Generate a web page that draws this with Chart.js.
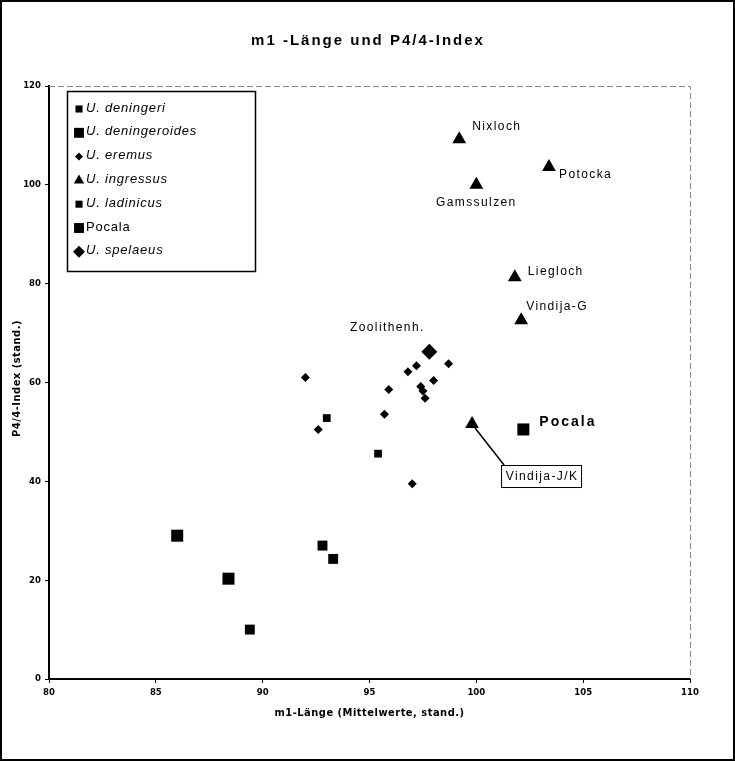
<!DOCTYPE html>
<html>
<head>
<meta charset="utf-8">
<title>m1 -Länge und P4/4-Index</title>
<script src="https://cdn.jsdelivr.net/npm/chart.js"></script>
<style>
  html, body { margin: 0; padding: 0; background: #fff; }
  #box { width: 735px; height: 761px; }
</style>
</head>
<body>
<div id="box"><canvas id="chart"></canvas></div>
<script>
// series (x = m1-Länge, y = P4/4-Index)
const deningeriX = [89.4, 92.8, 93.3];
const deningeriY = [10.0, 27.0, 24.3];
const deningeroidesX = [86.0, 88.4];
const deningeroidesY = [29.0, 20.3];
const eremusX = [92.0, 92.6, 95.7, 95.9, 96.8, 97.2, 97.4, 97.5, 97.6, 98.0, 98.7, 97.0];
const eremusY = [61.0, 50.5, 53.6, 58.6, 62.2, 63.4, 59.2, 58.3, 56.8, 60.4, 63.8, 39.5];
const ingressusX = [99.2, 103.4, 100.0, 101.8, 102.1, 99.8];
const ingressusY = [109.2, 103.6, 100.0, 81.3, 72.6, 51.6];
const ingressusNames = ['Nixloch', 'Potocka', 'Gamssulzen', 'Liegloch', 'Vindija-G', 'Vindija-J/K'];
const ladinicusX = [93.0, 95.4];
const ladinicusY = [52.8, 45.6];
const pocalaX = [102.2];
const pocalaY = [50.5];
const spelaeusX = [97.8];
const spelaeusY = [66.2];

const seriesNames = ['U. deningeri', 'U. deningeroides', 'U. eremus', 'U. ingressus', 'U. ladinicus', 'Pocala', 'U. spelaeus'];
const xTicks = [80, 85, 90, 95, 100, 105, 110];
const yTicks = [0, 20, 40, 60, 80, 100, 120];

// label placement (pixel offsets from the point), kept apart from the data
const ingressusLabelPos = [
  { dx: 13, dy: -13, align: 'left' },
  { dx: 10, dy: 8, align: 'left' },
  { dx: 0, dy: 18, align: 'center' },
  { dx: 13, dy: -6, align: 'left' },
  { dx: 5, dy: -14, align: 'left' },
  null
];

function pts(xs, ys) {
  return xs.map((x, i) => ({ x: x, y: ys[i] }));
}

const styles = [
  { pointStyle: 'rect', r: 7, lr: 5 },
  { pointStyle: 'rect', r: 8.5, lr: 7 },
  { pointStyle: 'rectRot', r: 4.5, lr: 4 },
  { pointStyle: 'triangle', r: 8, lr: 6 },
  { pointStyle: 'rect', r: 5.5, lr: 5 },
  { pointStyle: 'rect', r: 8.5, lr: 7 },
  { pointStyle: 'rectRot', r: 8, lr: 6 }
];

const seriesData = [
  pts(deningeriX, deningeriY),
  pts(deningeroidesX, deningeroidesY),
  pts(eremusX, eremusY),
  pts(ingressusX, ingressusY),
  pts(ladinicusX, ladinicusY),
  pts(pocalaX, pocalaY),
  pts(spelaeusX, spelaeusY)
];

const datasets = seriesNames.map((name, i) => ({
  label: name,
  data: seriesData[i],
  pointStyle: styles[i].pointStyle,
  pointRadius: styles[i].r,
  pointHoverRadius: styles[i].r,
  backgroundColor: '#000',
  borderColor: '#000',
  borderWidth: 0
}));

// draws frame, title, axis titles, legend and point labels
const decor = {
  id: 'decor',
  afterDraw(chart) {
    const ctx = chart.ctx;
    const a = chart.chartArea;
    ctx.save();

    // outer frame
    ctx.strokeStyle = '#000';
    ctx.lineWidth = 2;
    ctx.strokeRect(1, 1, 733, 759);

    // top and right plot border (thin grey dashed)
    ctx.strokeStyle = '#888';
    ctx.lineWidth = 1;
    ctx.setLineDash([6, 3]);
    ctx.beginPath();
    ctx.moveTo(a.left, a.top + 0.5);
    ctx.lineTo(a.right + 0.5, a.top + 0.5);
    ctx.lineTo(a.right + 0.5, a.bottom);
    ctx.stroke();
    ctx.setLineDash([]);

    // title
    ctx.fillStyle = '#000';
    ctx.textAlign = 'center';
    ctx.textBaseline = 'middle';
    ctx.letterSpacing = '2px';
    ctx.font = 'bold 15px "Liberation Sans", Arial, sans-serif';
    ctx.fillText('m1 -Länge und P4/4-Index', 368, 41);

    // axis titles
    ctx.letterSpacing = '0.5px';
    ctx.font = 'bold 11px "DejaVu Sans Condensed", "DejaVu Sans", sans-serif';
    ctx.fillText('m1-Länge (Mittelwerte, stand.)', (a.left + a.right) / 2, 713);
    ctx.save();
    ctx.translate(17, (a.top + a.bottom) / 2 - 4);
    ctx.rotate(-Math.PI / 2);
    ctx.fillText('P4/4-Index (stand.)', 0, 0);
    ctx.restore();

    // legend
    ctx.lineWidth = 1.5;
    ctx.strokeStyle = '#000';
    ctx.strokeRect(67.5, 91.5, 188, 180);
    ctx.textAlign = 'left';
    ctx.letterSpacing = '0.8px';
    seriesNames.forEach((name, i) => {
      const y = 108 + i * 23.8;
      ctx.fillStyle = '#000';
      Chart.helpers.drawPoint(ctx, { pointStyle: styles[i].pointStyle, radius: styles[i].lr, rotation: 0, borderWidth: 0 }, 79, y + 1);
      ctx.font = (name.startsWith('U.') ? 'italic ' : '') + '13px "Liberation Sans", Arial, sans-serif';
      ctx.fillText(name, 86, y);
    });

    // labels of the U. ingressus points
    const ingMeta = chart.getDatasetMeta(3).data;
    ctx.letterSpacing = '1.4px';
    ctx.font = '12px "Liberation Sans", Arial, sans-serif';
    ingressusNames.forEach((name, i) => {
      const p = ingMeta[i];
      const pos = ingressusLabelPos[i];
      if (pos) {
        ctx.textAlign = pos.align;
        ctx.fillText(name, p.x + pos.dx, p.y + pos.dy);
      } else {
        // boxed label with leader line
        const bx = p.x + 29, by = p.y + 41, bw = 80, bh = 22;
        ctx.lineWidth = 1.5;
        ctx.beginPath();
        ctx.moveTo(p.x + 3, p.y + 4);
        ctx.lineTo(bx + 3, by);
        ctx.stroke();
        ctx.lineWidth = 1;
        ctx.fillStyle = '#fff';
        ctx.fillRect(bx, by, bw, bh);
        ctx.strokeRect(bx + 0.5, by + 0.5, bw, bh);
        ctx.fillStyle = '#000';
        ctx.textAlign = 'center';
        ctx.fillText(name, bx + bw / 2 + 1, by + bh / 2 + 1);
      }
    });

    // Zoolithenh. and Pocala
    const sp = chart.getDatasetMeta(6).data[0];
    ctx.textAlign = 'center';
    ctx.fillText('Zoolithenh.', sp.x - 42, sp.y - 24);
    const po = chart.getDatasetMeta(5).data[0];
    ctx.textAlign = 'left';
    ctx.letterSpacing = '2px';
    ctx.font = 'bold 14px "Liberation Sans", Arial, sans-serif';
    ctx.fillText('Pocala', po.x + 16, po.y - 7);

    ctx.letterSpacing = '0px';
    ctx.restore();
  }
};

new Chart(document.getElementById('chart'), {
  type: 'scatter',
  data: { datasets: datasets },
  plugins: [decor],
  options: {
    responsive: true,
    maintainAspectRatio: false,
    animation: false,
    events: [],
    layout: { padding: { top: 86, right: 45, left: 0, bottom: 0 } },
    plugins: {
      legend: { display: false },
      title: { display: false },
      tooltip: { enabled: false }
    },
    scales: {
      x: {
        type: 'linear',
        min: xTicks[0],
        max: xTicks[xTicks.length - 1],
        afterBuildTicks: s => { s.ticks = xTicks.map(v => ({ value: v })); },
        afterFit: s => { s.height = 82; },
        grid: { drawOnChartArea: false, color: '#000', tickLength: 4 },
        border: { color: '#000', width: 2 },
        ticks: { color: '#000', padding: 4, font: { family: '"DejaVu Sans Condensed", "DejaVu Sans", sans-serif', size: 9.5, weight: 'bold' } }
      },
      y: {
        type: 'linear',
        min: yTicks[0],
        max: yTicks[yTicks.length - 1],
        afterBuildTicks: s => { s.ticks = yTicks.map(v => ({ value: v })); },
        afterFit: s => { s.width = 49; },
        grid: { drawOnChartArea: false, color: '#000', tickLength: 4 },
        border: { color: '#000', width: 2 },
        ticks: { color: '#000', padding: 4, font: { family: '"DejaVu Sans Condensed", "DejaVu Sans", sans-serif', size: 9.5, weight: 'bold' } }
      }
    }
  }
});
</script>
</body>
</html>
